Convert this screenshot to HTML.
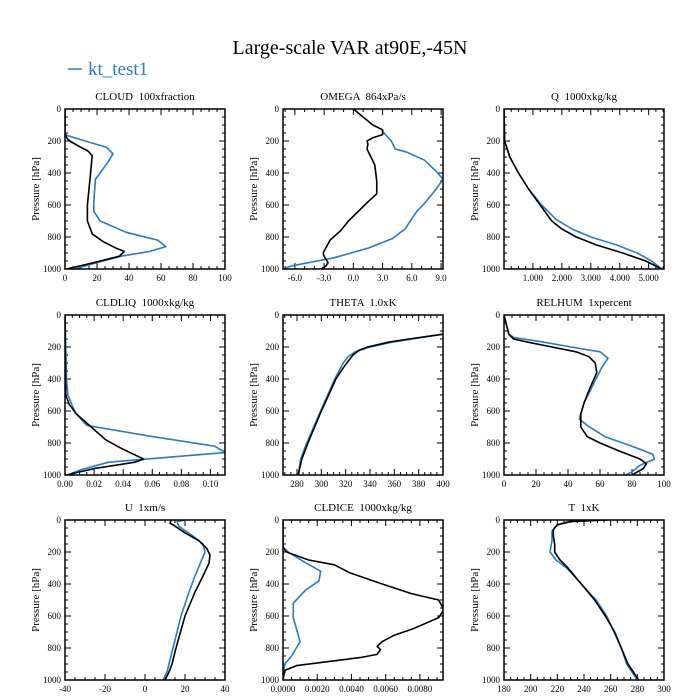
<!DOCTYPE html>
<html><head><meta charset="utf-8"><style>
body{margin:0;background:#fff;}
svg{display:block;font-family:"Liberation Serif",serif;}
svg text{white-space:pre;}
</style></head><body>
<svg id="chart" width="700" height="700" viewBox="0 0 700 700">
<text x="350" y="54" font-size="20" text-anchor="middle">Large-scale VAR at90E,-45N</text>
<g>
<line x1="68" y1="69" x2="82" y2="69" stroke="#2b7bbf" stroke-width="1.5"/>
<text x="88" y="75" font-size="19" fill="#2b7bbf">kt_test1</text>
</g>
</svg>
<script>
// Pressure levels and values per panel (black = reference, blue = kt_test1)
const cloudBlackP=[0,150,180,200,240,260,290,400,600,700,780,830,870,890,920,960,1000];
const cloudBlackV=[0,0,1,3,10,14,17,16,14,14,17,24,32,37,34,18,1];
const cloudBlueP=[150,165,240,280,330,440,580,640,700,770,820,860,890,920,960,1000];
const cloudBlueV=[0,1,26,30,27,19,18,18,22,38,58,63,53,35,20,6];

const omegaBlackP=[0,100,130,160,180,200,220,250,350,450,530,580,700,760,820,900,920,960,980,1000];
const omegaBlackV=[0,2,3.0,3.0,2.0,1.4,1.5,1.4,2.2,2.4,2.4,1.5,-0.5,-1.3,-2.4,-3.1,-3.0,-2.6,-2.8,-3.3];
const omegaBlueP=[140,200,250,270,320,390,440,500,590,640,750,810,870,930,980,1000];
const omegaBlueV=[3.0,3.9,4.3,5.5,7.3,8.5,9.2,8.5,7.3,6.5,5.3,4.0,1.5,-2.0,-6.3,-7.2];

const qBlackP=[0,200,300,400,500,600,700,750,800,850,900,950,1000];
const qBlackV=[0,0.02,0.2,0.5,0.85,1.25,1.65,2.0,2.5,3.2,4.1,4.9,5.45];
const qBlueP=[0,200,300,400,500,600,690,750,800,850,900,950,1000];
const qBlueV=[0,0.02,0.2,0.5,0.85,1.3,1.8,2.35,3.0,3.9,4.6,5.1,5.45];

const liqBlackP=[0,500,560,620,700,780,830,870,900,920,960,985,1000];
const liqBlackV=[0,0.0005,0.003,0.008,0.018,0.028,0.038,0.047,0.054,0.048,0.02,0.008,0.001];
const liqBlueP=[0,400,500,610,690,760,820,860,920,970,1000];
const liqBlueV=[0,0.001,0.002,0.007,0.015,0.06,0.103,0.11,0.03,0.01,0.002];

const thetaBlackP=[120,150,170,200,220,250,290,330,400,600,800,900,1000];
const thetaBlackV=[400,372,355,338,331,326,322,318,312,300,289,284,281];
const thetaBlueP=[120,170,200,230,260,300,400,600,800,900,1000];
const thetaBlueV=[400,358,340,328,322,318,311,299.5,288,283,281];

const rhBlackP=[0,120,150,170,200,230,260,300,360,450,550,620,700,760,800,850,900,930,960,1000];
const rhBlackV=[0,3,6,15,30,45,53,57,58,54,50,48,48,52,60,72,85,89,87,80];
const rhBlueP=[0,120,140,170,200,230,270,330,450,550,650,690,760,820,870,900,940,980,1000];
const rhBlueV=[0,3,6,25,42,60,65,61,55,50,47,52,63,80,93,94,85,80,76];

const uBlackP=[0,20,30,80,130,180,220,270,350,450,600,800,900,950,1000];
const uBlackV=[13,12.5,14,20,27,31,32.5,32,29,25,20,15.5,13.5,12,10];
const uBlueP=[0,10,40,100,150,200,260,350,450,600,800,900,950,1000];
const uBlueV=[20,16,17,24,29,30,28,25,22,18,14,12,11,9];

const iceBlackP=[0,170,200,250,280,330,400,460,500,560,610,680,720,760,790,810,840,860,880,910,940,1000];
const iceBlackV=[0,0,0.0002,0.0015,0.003,0.0039,0.0058,0.0075,0.0091,0.0094,0.0091,0.0076,0.0065,0.0058,0.0055,0.0057,0.0055,0.0045,0.003,0.0008,0.0001,0];
const iceBlueP=[0,170,200,260,320,380,440,520,610,760,850,900,1000];
const iceBlueV=[0,0,0.0003,0.0012,0.0022,0.0021,0.0013,0.0006,0.0006,0.001,0.0005,0.0001,0];

const tBlackP=[0,10,30,60,100,150,200,250,300,400,500,600,700,800,900,1000];
const tBlackV=[258,230,220,217,217,218,218,222,228,238,248,256,263,268,273,281];
const tBlueP=[0,10,30,70,130,200,250,300,400,500,600,800,900,1000];
const tBlueV=[250,228,220,216,216,214.5,219,227,238,249,257,268,272,280];

const panelTitles=["CLOUD  100xfraction","OMEGA  864xPa/s","Q  1000xkg/kg","CLDLIQ  1000xkg/kg","THETA  1.0xK","RELHUM  1xpercent","U  1xm/s","CLDICE  1000xkg/kg","T  1xK"];
const yTicks=[0,200,400,600,800,1000];

const NS="http://www.w3.org/2000/svg";
const svg=document.getElementById('chart');
function mk(tag,attrs,parent){const e=document.createElementNS(NS,tag);for(const k in attrs)e.setAttribute(k,attrs[k]);(parent||svg).appendChild(e);return e;}

const panels=[
 {name:'cloud',x0:65,y0:109,min:0,max:100,ticks:[0,20,40,60,80,100],fmt:v=>v.toFixed(0),minor:5,bp:cloudBlackP,bv:cloudBlackV,up:cloudBlueP,uv:cloudBlueV},
 {name:'omega',x0:283,y0:109,min:-7.22,max:9.2,ticks:[-6,-3,0,3,6,9],fmt:v=>v.toFixed(1),minor:1,bp:omegaBlackP,bv:omegaBlackV,up:omegaBlueP,uv:omegaBlueV},
 {name:'q',x0:504,y0:109,min:0,max:5.53,ticks:[1,2,3,4,5],fmt:v=>v.toFixed(3),minor:0.25,bp:qBlackP,bv:qBlackV,up:qBlueP,uv:qBlueV},
 {name:'cldliq',x0:65,y0:315,min:0,max:0.11,ticks:[0,0.02,0.04,0.06,0.08,0.10],fmt:v=>v.toFixed(2),minor:0.005,bp:liqBlackP,bv:liqBlackV,up:liqBlueP,uv:liqBlueV},
 {name:'theta',x0:283,y0:315,min:268.5,max:400,ticks:[280,300,320,340,360,380,400],fmt:v=>v.toFixed(0),minor:5,bp:thetaBlackP,bv:thetaBlackV,up:thetaBlueP,uv:thetaBlueV},
 {name:'relhum',x0:504,y0:315,min:0,max:100,ticks:[0,20,40,60,80,100],fmt:v=>v.toFixed(0),minor:5,bp:rhBlackP,bv:rhBlackV,up:rhBlueP,uv:rhBlueV},
 {name:'u',x0:65,y0:520,min:-40,max:40,ticks:[-40,-20,0,20,40],fmt:v=>v.toFixed(0),minor:5,bp:uBlackP,bv:uBlackV,up:uBlueP,uv:uBlueV},
 {name:'cldice',x0:283,y0:520,min:0,max:0.00935,ticks:[0,0.002,0.004,0.006,0.008],fmt:v=>v.toFixed(4),minor:0.0005,bp:iceBlackP,bv:iceBlackV,up:iceBlueP,uv:iceBlueV},
 {name:'t',x0:504,y0:520,min:180,max:300,ticks:[180,200,220,240,260,280,300],fmt:v=>v.toFixed(0),minor:5,bp:tBlackP,bv:tBlackV,up:tBlueP,uv:tBlueV}
];
const W=160,H=160;
panels.forEach((p,i)=>{
  const g=mk('g',{});
  
  
  const xs=v=>p.x0+(v-p.min)/(p.max-p.min)*W;
  const ys=v=>p.y0+v/1000*H;
  const cp='clip'+i;
  const defs=mk('defs',{},g);const c=mk('clipPath',{id:cp},defs);mk('rect',{x:p.x0,y:p.y0,width:W,height:H},c);
  const t=mk('text',{x:p.x0+W/2,y:p.y0-9,'font-size':11,'text-anchor':'middle'},g);t.textContent=panelTitles[i];
  
  
  for(let v=0;v<=1000;v+=50){const y=ys(v);const L=(v%200===0)?6:3;
    mk('line',{x1:p.x0,x2:p.x0+L,y1:y,y2:y,stroke:'#000','stroke-width':1},g);
    mk('line',{x1:p.x0+W,x2:p.x0+W-L,y1:y,y2:y,stroke:'#000','stroke-width':1},g);}
  yTicks.forEach(v=>{const tt=mk('text',{x:p.x0-4,y:ys(v)+3,'font-size':9,'text-anchor':'end'},g);tt.textContent=v;
    
    });
  const yl=mk('text',{x:0,y:0,'font-size':11,'text-anchor':'middle',transform:`translate(${p.x0-26},${p.y0+H/2}) rotate(-90)`},g);yl.textContent='Pressure [hPa]';
  
  
  const n0=Math.ceil(p.min/p.minor-1e-6),n1=Math.floor(p.max/p.minor+1e-6);
  for(let n=n0;n<=n1;n++){const v=n*p.minor;const x=xs(v);
    const major=p.ticks.some(tk=>Math.abs(tk-v)<p.minor*0.01);const L=major?6:3;
    mk('line',{x1:x,x2:x,y1:p.y0+H,y2:p.y0+H-L,stroke:'#000','stroke-width':1},g);
    mk('line',{x1:x,x2:x,y1:p.y0,y2:p.y0+L,stroke:'#000','stroke-width':1},g);}
  p.ticks.forEach(v=>{const tt=mk('text',{x:xs(v),y:p.y0+H+12,'font-size':9,'text-anchor':'middle'},g);tt.textContent=p.fmt(v);
    
    });
  const line=(P,V,col,nm)=>{const d=P.map((pp,k)=>(k?'L':'M')+xs(V[k]).toFixed(2)+','+ys(pp).toFixed(2)).join('');
    const e=mk('path',{d:d,fill:'none',stroke:col,'stroke-width':1.6,'stroke-linejoin':'round','clip-path':`url(#${cp})`},g);
    
    };
  line(p.up,p.uv,'#2b7bbf',p.name+'-kt-test1-line');
  line(p.bp,p.bv,'#000',p.name+'-reference-line');
  const fr=mk('rect',{x:p.x0,y:p.y0,width:W,height:H,fill:'none',stroke:'#000','stroke-width':1.5},g);
  
  
});
</script>
</body></html>
